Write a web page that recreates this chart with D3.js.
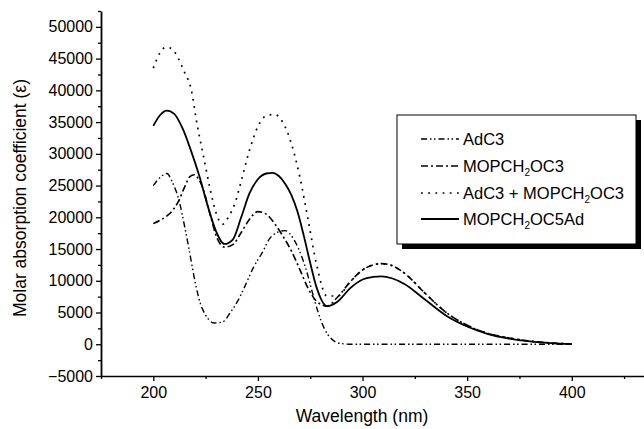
<!DOCTYPE html>
<html>
<head>
<meta charset="utf-8">
<script src="https://cdn.jsdelivr.net/npm/d3@7/dist/d3.min.js"></script>
<style>
  html, body { margin: 0; padding: 0; background: #fff; }
  svg { display: block; font-family: "Liberation Sans", Arial, Helvetica, sans-serif; }
</style>
</head>
<body>
<svg id="chart" width="644" height="429"></svg>
<script>
// ---------- data ----------
const xMajorTicks = [200, 250, 300, 350, 400];
const xMinorTicks = [175, 225, 275, 325, 375, 425];
const yMajorTicks = [-5000, 0, 5000, 10000, 15000, 20000, 25000, 30000, 35000, 40000, 45000, 50000];
const yMinorTicks = [-2500, 2500, 7500, 12500, 17500, 22500, 27500, 32500, 37500, 42500, 47500, 52500];

const adc3W = [200, 203, 206.5, 209, 212.5, 215, 217, 220, 222.5, 225, 229, 233, 237, 240.5, 244, 248, 252, 255.5, 259, 263, 267, 270, 273, 276, 279, 282, 285, 289, 295, 400];
const adc3V = [25000, 26200, 26900, 25600, 22400, 18500, 15100, 9800, 6400, 4600, 3350, 3500, 5100, 6900, 9300, 12200, 14400, 16600, 17600, 17900, 16600, 14600, 11800, 8200, 4800, 2300, 900, 150, 0, 0];

const mopW = [200, 203, 206, 209, 212, 215, 217.5, 219.5, 221.5, 224, 227, 230.5, 234, 238, 242, 246, 250, 254, 258, 262, 266, 270, 274, 278, 283, 288, 294, 300, 305, 309, 314, 320, 330, 340, 350, 360, 370, 380, 390, 400];
const mopV = [19000, 19500, 20100, 21000, 22500, 24800, 26400, 26700, 26100, 24300, 20600, 16700, 15300, 15700, 17600, 19700, 20900, 20500, 19000, 17000, 14700, 11800, 8800, 6800, 6000, 7400, 9800, 11700, 12500, 12700, 12400, 11200, 8000, 5000, 3000, 1700, 1000, 500, 200, 30];

const mixW = [200, 203, 206, 209, 212, 215, 218, 221, 224, 227, 230, 233, 236, 239, 242, 246, 250, 254, 258, 262, 266, 270, 274, 278, 283, 288, 294, 300, 305, 309, 314, 320, 330, 340, 350, 360, 370, 380, 390, 400];
const mixV = [43500, 45800, 46800, 46500, 45000, 42800, 40300, 34500, 29600, 24700, 20700, 18900, 20100, 22200, 25700, 30600, 34300, 36000, 36200, 34900, 31600, 26400, 19600, 12600, 7600, 7600, 9800, 11700, 12500, 12700, 12400, 11200, 8000, 5000, 3000, 1700, 1000, 500, 200, 30];

const c5W = [200, 203, 206.5, 210, 214, 218, 222, 226, 230, 234, 238, 242, 246, 250, 254, 257, 260, 263, 266, 269, 272, 275, 278, 283, 288, 294, 300, 305, 309, 314, 320, 330, 340, 350, 360, 370, 380, 390, 400];
const c5V = [34400, 36000, 36800, 36300, 34000, 30500, 26500, 21800, 17800, 15800, 16500, 20000, 23800, 26000, 26900, 27000, 26500, 25300, 23500, 20800, 17000, 12800, 9000, 6000, 6700, 8800, 10200, 10600, 10700, 10400, 9500, 7000, 4500, 2800, 1600, 900, 450, 180, 30];

const seriesNames = ["AdC3", "MOPCH2OC3", "AdC3 + MOPCH2OC3", "MOPCH2OC5Ad"];

// ---------- layout ----------
const svg = d3.select("#chart");
const x = d3.scaleLinear().domain([175, 435]).range([101, 645]);
const y = d3.scaleLinear().domain([-5000, 52500]).range([376, 11]);

const styles = [
  { w: adc3W, v: adc3V, dash: "6,3,1.5,2.5,1.5,3", width: 1.4 },
  { w: mopW, v: mopV, dash: "7,3,2,3", width: 1.6 },
  { w: mixW, v: mixV, dash: "1.8,5.4", width: 1.7 },
  { w: c5W, v: c5V, dash: null, width: 1.8 }
];

const line = d3.line().x(d => x(d[0])).y(d => y(d[1])).curve(d3.curveMonotoneX);

const plot = svg.append("g");
styles.forEach(s => {
  const pts = s.w.map((w, i) => [w, s.v[i]]);
  plot.append("path")
    .attr("d", line(pts))
    .attr("fill", "none")
    .attr("stroke", "#000")
    .attr("stroke-width", s.width)
    .attr("stroke-dasharray", s.dash);
});

// ---------- axes ----------
const fontSize = 16;
const xAxis = svg.append("g").attr("transform", "translate(0,376)");
xAxis.call(d3.axisBottom(x).tickValues(xMajorTicks).tickSize(5).tickSizeOuter(0).tickFormat(d3.format("d")));
xAxis.append("g").call(d3.axisBottom(x).tickValues(xMinorTicks).tickSize(3).tickFormat(""))
  .select(".domain").remove();
xAxis.selectAll(".domain").attr("stroke-width", 1.5);
xAxis.selectAll("text").attr("font-size", fontSize).attr("font-family", "Liberation Sans, Arial, sans-serif").attr("fill", "#000").attr("dy", "0.9em");
xAxis.selectAll("line").attr("stroke-width", 1.3);

const yAxis = svg.append("g").attr("transform", "translate(101,0)");
yAxis.call(d3.axisLeft(y).tickValues(yMajorTicks).tickSize(5).tickSizeOuter(0).tickFormat(d3.format("d")));
yAxis.append("g").call(d3.axisLeft(y).tickValues(yMinorTicks).tickSize(3).tickFormat(""))
  .select(".domain").remove();
yAxis.selectAll(".domain").attr("stroke-width", 1.8);
yAxis.selectAll("text").attr("font-size", fontSize).attr("font-family", "Liberation Sans, Arial, sans-serif").attr("fill", "#000");
yAxis.selectAll("line").attr("stroke-width", 1.3);

svg.append("text")
  .attr("x", 362).attr("y", 422)
  .attr("text-anchor", "middle")
  .attr("font-size", 17.5)
  .text("Wavelength (nm)");

svg.append("text")
  .attr("transform", "translate(26,198) rotate(-90)")
  .attr("text-anchor", "middle")
  .attr("font-size", 17.5)
  .text("Molar absorption coefficient (ε)");

// ---------- legend ----------
const lg = svg.append("g");
lg.append("rect").attr("x", 402).attr("y", 120).attr("width", 239).attr("height", 129).attr("fill", "#000");
lg.append("rect").attr("x", 397).attr("y", 115).attr("width", 239).attr("height", 129)
  .attr("fill", "#fff").attr("stroke", "#000").attr("stroke-width", 1);

const rowY = [139, 166, 193, 219];
styles.forEach((s, i) => {
  lg.append("line")
    .attr("x1", 421).attr("x2", 459)
    .attr("y1", rowY[i]).attr("y2", rowY[i])
    .attr("stroke", "#000").attr("stroke-width", s.width)
    .attr("stroke-dasharray", s.dash);
  const t = lg.append("text").attr("x", 463).attr("y", rowY[i] + 6).attr("font-size", 16.5);
  const name = seriesNames[i];
  const parts = name.split("CH2");
  if (parts.length === 1) {
    t.text(name);
  } else {
    t.append("tspan").text(parts[0] + "CH");
    t.append("tspan").attr("font-size", 10).attr("dy", 4).text("2");
    t.append("tspan").attr("dy", -4).text(parts[1]);
  }
});
</script>
</body>
</html>
